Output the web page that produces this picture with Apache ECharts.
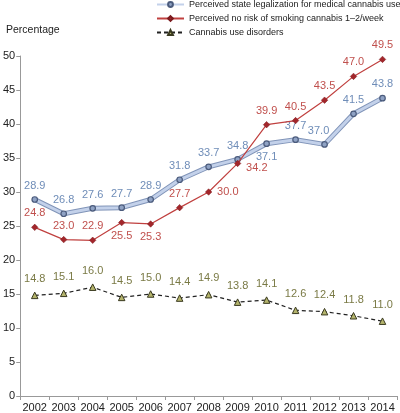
<!DOCTYPE html>
<html>
<head>
<meta charset="utf-8">
<script src="https://cdn.jsdelivr.net/npm/echarts@6/dist/echarts.min.js"></script>
<style>
html,body{margin:0;padding:0;background:#fff;}
#main{width:400px;height:413px;}
</style>
</head>
<body>
<div id="main"></div>
<script>
var years = ['2002','2003','2004','2005','2006','2007','2008','2009','2010','2011','2012','2013','2014'];
var legalData = [28.9, 26.8, 27.6, 27.7, 28.9, 31.8, 33.7, 34.8, 37.1, 37.7, 37.0, 41.5, 43.8];
var noRiskData = [24.8, 23.0, 22.9, 25.5, 25.3, 27.7, 30.0, 34.2, 39.9, 40.5, 43.5, 47.0, 49.5];
var disorderData = [14.8, 15.1, 16.0, 14.5, 15.0, 14.4, 14.9, 13.8, 14.1, 12.6, 12.4, 11.8, 11.0];
var seriesNames = ['Perceived state legalization for medical cannabis use', 'Perceived no risk of smoking cannabis 1\u20132/week', 'Cannabis use disorders'];

// label placement tweaks, by point index
function withLabels(values, tweaks) {
	return values.map(function (v, i) {
		var item = { value: v };
		if (tweaks[i]) item.label = tweaks[i];
		return item;
	});
}

var legalTweaks = {
	8: { position: 'bottom', distance: 4 },
	10: { offset: [-6, 0] }
};
var noRiskTweaks = {
	3: { position: 'bottom', distance: 4 },
	4: { position: 'bottom', distance: 4 },
	6: { position: 'right', distance: 5 },
	7: { position: 'right', distance: 5, offset: [0, 5] }
};

var fmt = function (p) { return p.value.toFixed(1); };

var myChart = echarts.init(document.getElementById('main'));
var option = {
	backgroundColor: '#fff',
	animation: false,
	title: {
		text: 'Percentage',
		left: 1,
		top: 20,
		textStyle: { fontSize: 10.5, fontWeight: 'normal', color: '#222', fontFamily: 'Liberation Sans' }
	},
	legend: {
		data: seriesNames,
		orient: 'vertical',
		left: 156,
		top: 0,
		padding: 0,
		itemWidth: 27,
		itemHeight: 6,
		itemGap: 5,
		textStyle: { fontSize: 9, color: '#222', fontFamily: 'Liberation Sans' }
	},
	grid: { left: 18, right: 3, top: 56, bottom: 16 },
	xAxis: {
		type: 'category',
		data: years,
		boundaryGap: true,
		axisLine: { lineStyle: { color: '#999' } },
		axisTick: { show: true, length: 4, lineStyle: { color: '#999' } },
		axisLabel: { color: '#222', fontSize: 11, margin: 6, interval: 0, fontFamily: 'Liberation Sans' }
	},
	yAxis: {
		type: 'value',
		min: 0,
		max: 50,
		interval: 5,
		axisLine: { show: true, lineStyle: { color: '#999' } },
		axisTick: { show: true, length: 4, lineStyle: { color: '#999' } },
		splitLine: { show: false },
		axisLabel: { color: '#222', fontSize: 11, margin: 5, fontFamily: 'Liberation Sans' }
	},
	series: [
		{
			// darker outline under the blue line
			name: 'legalOutline',
			type: 'line',
			data: legalData,
			silent: true,
			symbol: 'none',
			lineStyle: { width: 5, color: '#8094b8' },
			z: 1
		},
		{
			name: seriesNames[0],
			type: 'line',
			data: withLabels(legalData, legalTweaks),
			symbol: 'circle',
			symbolSize: 5.5,
			itemStyle: { color: '#8fa2c4', borderColor: '#4b5b7c', borderWidth: 1.2 },
			lineStyle: { width: 3, color: '#c3d1ea' },
			label: { show: true, position: 'top', distance: 5, color: '#6f8db8', fontSize: 11, fontFamily: 'Liberation Sans', formatter: fmt },
			z: 2
		},
		{
			name: seriesNames[1],
			type: 'line',
			data: withLabels(noRiskData, noRiskTweaks),
			symbol: 'diamond',
			symbolSize: 6.5,
			itemStyle: { color: '#a3262b', borderColor: '#7a1a1e', borderWidth: 0.5 },
			lineStyle: { width: 1.2, color: '#c0403f' },
			label: { show: true, position: 'top', distance: 5, color: '#c0504d', fontSize: 11, fontFamily: 'Liberation Sans', formatter: fmt },
			z: 3
		},
		{
			name: seriesNames[2],
			type: 'line',
			data: disorderData,
			symbol: 'triangle',
			symbolSize: 6.5,
			itemStyle: { color: '#b4b46c', borderColor: '#3a3a20', borderWidth: 1 },
			lineStyle: { width: 1.2, color: '#222', type: [4, 3] },
			label: { show: true, position: 'top', distance: 7, color: '#7a7a45', fontSize: 11, fontFamily: 'Liberation Sans', formatter: fmt },
			z: 3
		}
	]
};
myChart.setOption(option);
</script>
</body>
</html>
